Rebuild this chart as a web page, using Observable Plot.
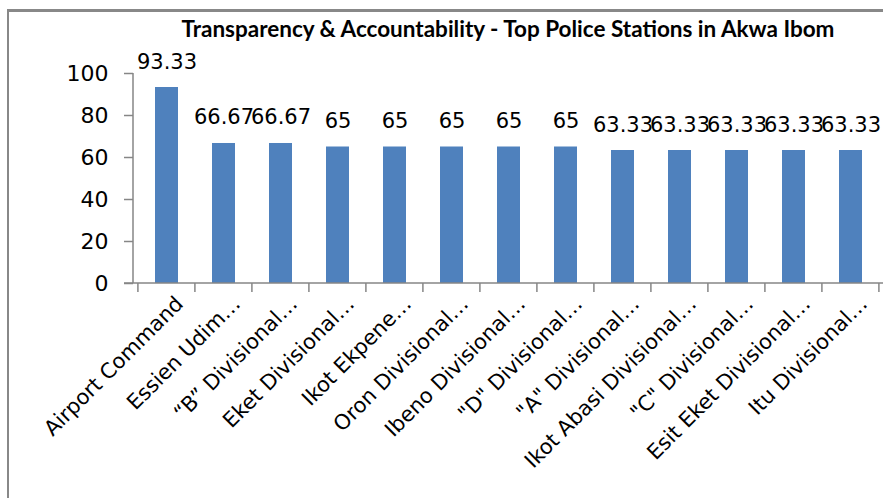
<!DOCTYPE html>
<html>
<head>
<meta charset="utf-8">
<script src="https://cdn.jsdelivr.net/npm/d3@7"></script>
<script src="https://cdn.jsdelivr.net/npm/@observablehq/plot@0.6"></script>
<style>
  html, body { margin: 0; padding: 0; background: #fff; overflow: hidden; width: 883px; height: 498px; }
  #wrap { position: relative; width: 883px; height: 498px; overflow: hidden; background: #fff; }
  #chart { position: absolute; left: 0; top: 0; width: 890px; }
  #chart svg { max-width: none; }
  #frame { position: absolute; left: 7px; top: 9px; width: 1000px; height: 1000px; border-left: 2px solid #888888; border-top: 3px solid #888888; z-index: 2; }
  #title { position: absolute; left: 130px; width: 756px; top: 15px; text-align: center; font-family: Lato, sans-serif; font-weight: bold; font-size: 22.5px; color: #000; white-space: nowrap; z-index: 3; }
</style>
</head>
<body>
<div id="wrap">
  <div id="chart"></div>
  <div id="frame"></div>
  <div id="title">Transparency &amp; Accountability - Top Police Stations in Akwa Ibom</div>
</div>
<script>
const categories = [
  "Airport Command",
  "Essien Udim…",
  "“B” Divisional…",
  "Eket Divisional…",
  "Ikot Ekpene…",
  "Oron Divisional…",
  "Ibeno Divisional…",
  "\"D\" Divisional…",
  "\"A\" Divisional…",
  "Ikot Abasi Divisional…",
  "\"C\" Divisional…",
  "Esit Eket Divisional…",
  "Itu Divisional…"
];
const values = [93.33, 66.67, 66.67, 65, 65, 65, 65, 65, 63.33, 63.33, 63.33, 63.33, 63.33];
const yTicks = [0, 20, 40, 60, 80, 100];

const data = categories.map((c, i) => ({cat: c, v: values[i]}));
const axisColor = "#868686";
const PAD_INNER = 0.6;

const axisLines = (index, scales, vals, dims) => {
  const {width, height, marginLeft, marginRight, marginBottom} = dims;
  const y0 = height - marginBottom;
  const x = scales.x;
  const step = x(categories[1]) - x(categories[0]);
  const off = step * PAD_INNER / 2;
  const g = d3.create("svg:g").attr("stroke", axisColor).attr("stroke-width", 1.5).attr("fill", "none");
  g.append("line").attr("x1", marginLeft).attr("x2", marginLeft).attr("y1", scales.y(100)).attr("y2", y0);
  g.append("line").attr("x1", marginLeft - 9).attr("x2", width - marginRight).attr("y1", y0).attr("y2", y0);
  const bounds = categories.map(c => x(c) - off);
  bounds.push(x(categories[categories.length - 1]) + step - off);
  for (const b of bounds) {
    g.append("line").attr("x1", b).attr("x2", b).attr("y1", y0).attr("y2", y0 + 9);
  }
  return g.node();
};

const chart = Plot.plot({
  width: 890,
  height: 498,
  marginLeft: 133,
  marginRight: 6,
  marginTop: 73,
  marginBottom: 215,
  style: {fontFamily: "'DejaVu Sans', sans-serif", background: "transparent", overflow: "visible"},
  x: {domain: categories, paddingInner: PAD_INNER, paddingOuter: PAD_INNER / 2, axis: null},
  y: {domain: [0, 100]},
  marks: [
    Plot.barY(data, {x: "cat", y: "v", fill: "#4f81bd"}),
    Plot.text(data, {x: "cat", y: "v", text: d => String(d.v), dy: -19, lineAnchor: "bottom", fontSize: 21, fill: "black"}),
    Plot.axisY({ticks: yTicks, tickSize: 9, tickPadding: 16, fontSize: 22, stroke: axisColor, strokeWidth: 1.5, fill: "black", label: null, tickFormat: d => String(d)}),
    Plot.text(categories, {x: d => d, frameAnchor: "bottom", rotate: -45, textAnchor: "end", lineAnchor: "top", dx: 7, dy: 11, fontSize: 21, fill: "black"}),
    axisLines
  ]
});
document.getElementById("chart").appendChild(chart);
</script>
</body>
</html>
